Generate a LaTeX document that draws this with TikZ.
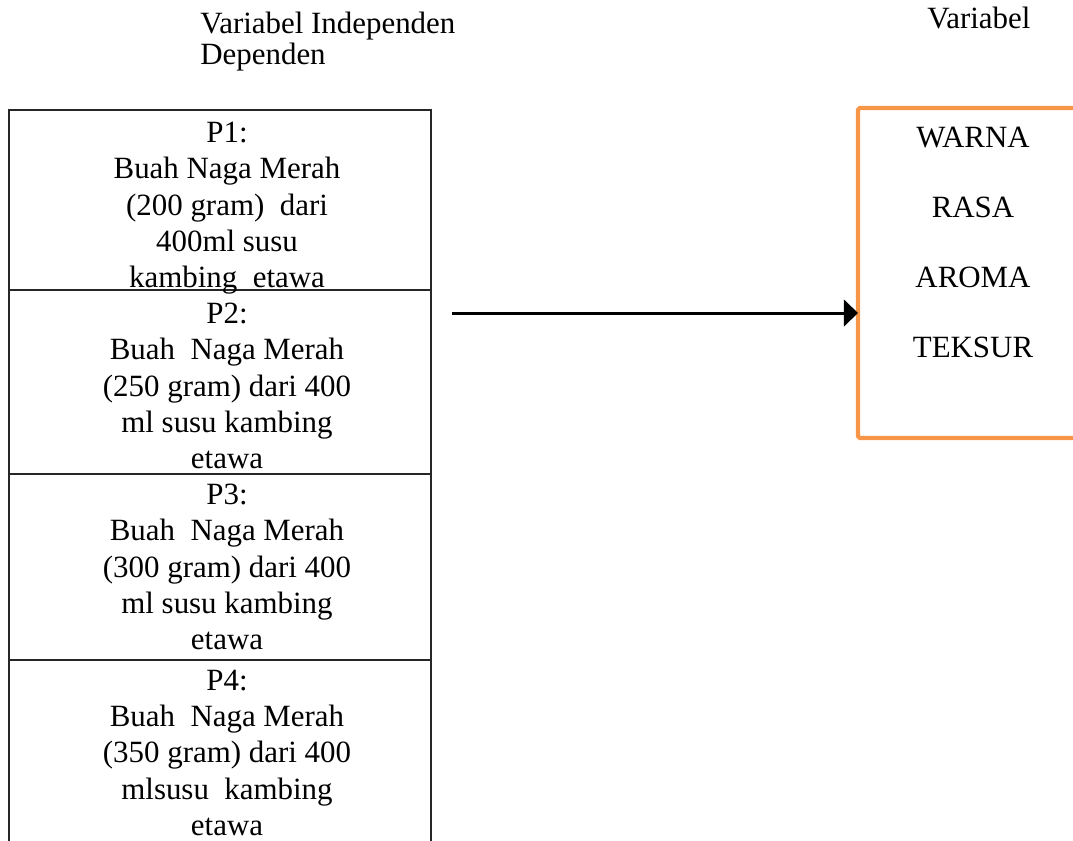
\documentclass[tikz,border=0pt]{standalone}
\usepackage{fontspec}
\setmainfont{Liberation Serif}
\usepackage{tikz}
\usetikzlibrary{positioning,arrows.meta}
\definecolor{oranye}{RGB}{247,150,70}

\begin{document}
\begin{tikzpicture}[x=0.02cm,y=-0.02cm,
  every node/.style={font=\fontsize{17.6}{20.6}\selectfont},
  cell/.style={draw=black!85,line width=1.1pt,outer sep=0pt,inner sep=0pt,
    minimum width=8.44cm},
  isi/.style={anchor=north,align=center,inner sep=0pt},
  judul/.style={anchor=base west,inner sep=0pt}]
\useasboundingbox (0,0) rectangle (1073,840);
% judul
\node[judul] (indep) at (200,33) {Variabel Independen};
\node[judul] (dep2) at (200,64) {Dependen};
\node[judul] (varb) at (927,28) {Variabel};
% kotak perlakuan
\node[cell,minimum height=3.6cm,anchor=north] (p1) at (220,110) {};
\node[cell,minimum height=3.68cm,below=0pt of p1] (p2) {};
\node[cell,minimum height=3.72cm,below=0pt of p2] (p3) {};
\node[cell,minimum height=3.8cm,below=0pt of p3] (p4) {};
\node[isi] (t1) at ([shift={(7,12)}]p1.north)
  {P1:\\Buah Naga Merah\\(200 gram)\ \ dari\\400ml susu\\kambing\ \ etawa};
\node[isi] (t2) at ([shift={(7,13)}]p2.north)
  {P2:\\Buah\ \ Naga Merah\\(250 gram) dari 400\\ml susu kambing\\etawa};
\node[isi] (t3) at ([shift={(7,10)}]p3.north)
  {P3:\\Buah\ \ Naga Merah\\(300 gram) dari 400\\ml susu kambing\\etawa};
\node[isi] (t4) at ([shift={(7,10)}]p4.north)
  {P4:\\Buah\ \ Naga Merah\\(350 gram) dari 400\\mlsusu\ \ kambing\\etawa};
% variabel dependen
\draw[oranye,line width=2.3pt,rounded corners=1pt] (1095,108) -- (858,108) -- (858,438) -- (1095,438);
\coordinate (dkiri) at (858,313);
\foreach \t/\y in {WARNA/147,RASA/217,AROMA/287,TEKSUR/357} {
  \node[anchor=base,inner sep=0pt] (v\t) at (973,\y) {\t};
}
% panah
\coordinate (mulai) at (452,313);
\draw[line width=1.7pt,-{Triangle[length=8pt,width=15pt]}] (mulai) -- (dkiri);
\end{tikzpicture}
\end{document}
